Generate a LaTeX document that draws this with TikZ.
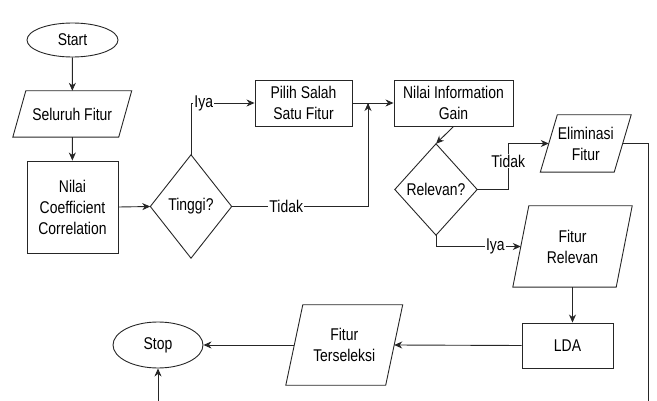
\documentclass[tikz,border=0pt]{standalone}
\usepackage{fontspec}
\setmainfont[FakeStretch=0.82]{Liberation Sans}
\usetikzlibrary{shapes.geometric,arrows.meta}
\begin{document}
\begin{tikzpicture}[x=1pt,y=-1pt,
  every node/.style={font=\fontsize{17}{21}\selectfont, align=center, inner sep=0pt},
  line/.style={line width=0.9pt, draw=black!85},
  arr/.style={line, -{Stealth[length=8pt,width=7pt,inset=2.5pt]}},
  term/.style={ellipse, draw=black!85, line width=0.9pt},
  proc/.style={rectangle, draw=black!85, line width=0.9pt},
  box/.style={rectangle},
  lbl/.style={fill=white, inner sep=1pt}
]
\useasboundingbox (0,0) rectangle (657,401);

% nodes
\node[term, minimum width=91pt, minimum height=34pt] (start) at (72.5,40) {Start};
\node[box, minimum width=105.5pt, minimum height=46pt] (sf) at (72.25,114) {Seluruh Fitur};
\node[proc, minimum width=91pt, minimum height=92pt] (ncc) at (72.5,207) {Nilai\\Coefficient\\Correlation};
\node[box, minimum width=81pt, minimum height=103pt] (ting) at (191,206.5) {Tinggi?};
\node[proc, minimum width=97pt, minimum height=46pt] (pilih) at (303.5,103) {Pilih Salah\\Satu Fitur};
\node[proc, minimum width=119pt, minimum height=46pt] (nig) at (453.5,103) {Nilai Information\\Gain};
\node[box, minimum width=82pt, minimum height=91pt] (rel) at (436,189.5) {Relevan?};
\node[box, minimum width=73.5pt, minimum height=57pt] (elim) at (585.75,143.5) {Eliminasi\\Fitur};
\node[box, minimum width=103pt, minimum height=81pt] (fr) at (572.5,246.5) {Fitur\\Relevan};
\node[proc, minimum width=91pt, minimum height=45pt] (lda) at (567.5,345.5) {LDA};
\node[box, minimum width=99.5pt, minimum height=80pt] (ft) at (344.25,345) {Fitur\\Terseleksi};
\node[term, minimum width=90pt, minimum height=46pt] (stop) at (158,345) {Stop};

% parallelogram outlines
\draw[line] ([xshift=6.5pt]sf.north west) -- ([xshift=6.5pt]sf.north east) -- ([xshift=-6.5pt]sf.south east) -- ([xshift=-6.5pt]sf.south west) -- cycle;
\draw[line] ([xshift=8.5pt]elim.north west) -- ([xshift=8.5pt]elim.north east) -- ([xshift=-8.5pt]elim.south east) -- ([xshift=-8.5pt]elim.south west) -- cycle;
\draw[line] ([xshift=8pt]fr.north west) -- ([xshift=8pt]fr.north east) -- ([xshift=-8pt]fr.south east) -- ([xshift=-8pt]fr.south west) -- cycle;
\draw[line] ([xshift=8.5pt]ft.north west) -- ([xshift=8.5pt]ft.north east) -- ([xshift=-8.5pt]ft.south east) -- ([xshift=-8.5pt]ft.south west) -- cycle;
% diamond outlines
\draw[line] (ting.north) -- (ting.east) -- (ting.south) -- (ting.west) -- cycle;
\draw[line] (rel.north) -- (rel.east) -- (rel.south) -- (rel.west) -- cycle;

% free ends
\coordinate (jn) at (368,103);
\coordinate (elimend) at (648,401);
\coordinate (stopin) at (158,401);

% connectors
\draw[arr] (start) -- (sf);
\draw[arr] (sf) -- (ncc);
\draw[arr] (ncc.east) -- (ting.west);
\draw[arr] (ting.north) |- node[lbl, pos=0.6] {Iya} (pilih.west);
\draw[line] (ting.east) -| node[lbl, pos=0.2] {Tidak} (jn);
\draw[arr] (ting.east -| jn) -- (jn);
\draw[arr] (pilih.east) -- (nig.west);
\draw[arr] (nig.south) -- (rel.north);
\draw[arr] (rel.east) -- ++(31,0) |- node[lbl, pos=0.31] {Tidak} (elim.west);
\draw[arr] (rel.south) |- node[lbl, pos=0.85] {Iya} (fr.west);
\draw[line] (elim.east) -| (elimend);
\draw[arr] (fr.south) -- (fr.south |- lda.north);
\draw[arr] (lda.west) -- (ft.east);
\draw[arr] (ft.west) -- (stop.east);
\draw[arr] (stopin) -- (stop.south);
\end{tikzpicture}
\end{document}
